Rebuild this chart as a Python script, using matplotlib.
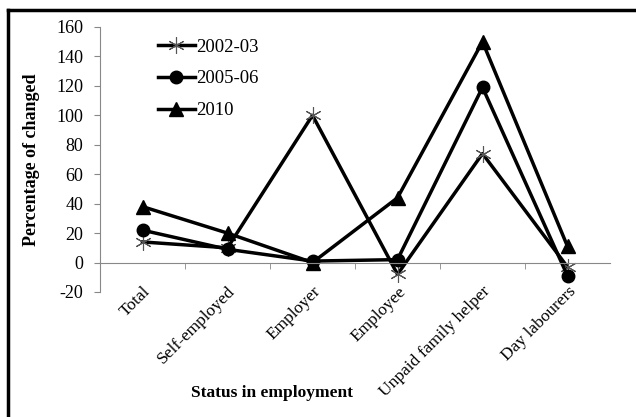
import matplotlib
matplotlib.use("Agg")
import matplotlib.pyplot as plt
from matplotlib.lines import Line2D

categories = ["Total", "Self-employed", "Employer", "Employee",
              "Unpaid family helper", "Day labourers"]
s2002 = [14, 10, 100, -8, 74, -3]
s2005 = [22, 9, 1, 2, 119, -9]
s2010 = [38, 20, 0, 44, 150, 11]
yticks = [-20, 0, 20, 40, 60, 80, 100, 120, 140, 160]

plt.rcParams['font.family'] = ['Liberation Serif', 'DejaVu Serif']
plt.rcParams['axes.unicode_minus'] = False

fig = plt.figure(figsize=(6.36, 4.17), dpi=100)
ax = fig.add_axes([100 / 636, 1 - 292 / 417, 510 / 636, 265 / 417])

x = range(len(categories))
ax.plot(x, s2002, color='black', lw=2.5, marker=(6, 2, 0), ms=12,
        mec='#555555', mew=0.8, label='2002-03')
ax.plot(x, s2005, color='black', lw=2.5, marker='o', ms=9, label='2005-06')
ax.plot(x, s2010, color='black', lw=2.5, marker='^', ms=10, label='2010')

ax.set_xlim(-0.5, len(categories) - 0.5)
ax.set_ylim(-20, 160)
ax.set_yticks(yticks)

for side in ['top', 'right']:
    ax.spines[side].set_visible(False)
ax.spines['left'].set_color('#888888')
ax.spines['bottom'].set_color('#888888')
ax.spines['bottom'].set_position(('data', 0))

ax.set_xticks(list(x))
ax.set_xticklabels(categories, rotation=45, ha='right', rotation_mode='anchor')
ax.set_xticks([i + 0.5 for i in range(len(categories) - 1)], minor=True)
ax.tick_params(axis='x', which='major', length=0, pad=15, labelsize=12.5)
ax.tick_params(axis='x', which='minor', length=4, color='#888888')
ax.tick_params(axis='y', length=4, color='#888888', labelsize=13, pad=8)

ax.set_ylabel('Percentage of changed', fontweight='bold', fontsize=13)
ax.yaxis.set_label_coords(-0.118, 0.5)
ax.set_xlabel('Status in employment', fontweight='bold', fontsize=12.5)
ax.xaxis.set_label_coords(0.337, -0.35)

ax.legend(loc='upper left', bbox_to_anchor=(0.08, 1.02), frameon=False,
          numpoints=1, handlelength=2.0, handletextpad=0.05,
          labelspacing=0.78, fontsize=13.5)

# outer frame (left and top edges only)
fig.add_artist(Line2D([8 / 636, 8 / 636], [0, 1 - 10 / 417],
                      transform=fig.transFigure, color='black', lw=2.5))
fig.add_artist(Line2D([8 / 636, 1], [1 - 10 / 417, 1 - 10 / 417],
                      transform=fig.transFigure, color='black', lw=2.5))

fig.savefig('out.png', dpi=100)
